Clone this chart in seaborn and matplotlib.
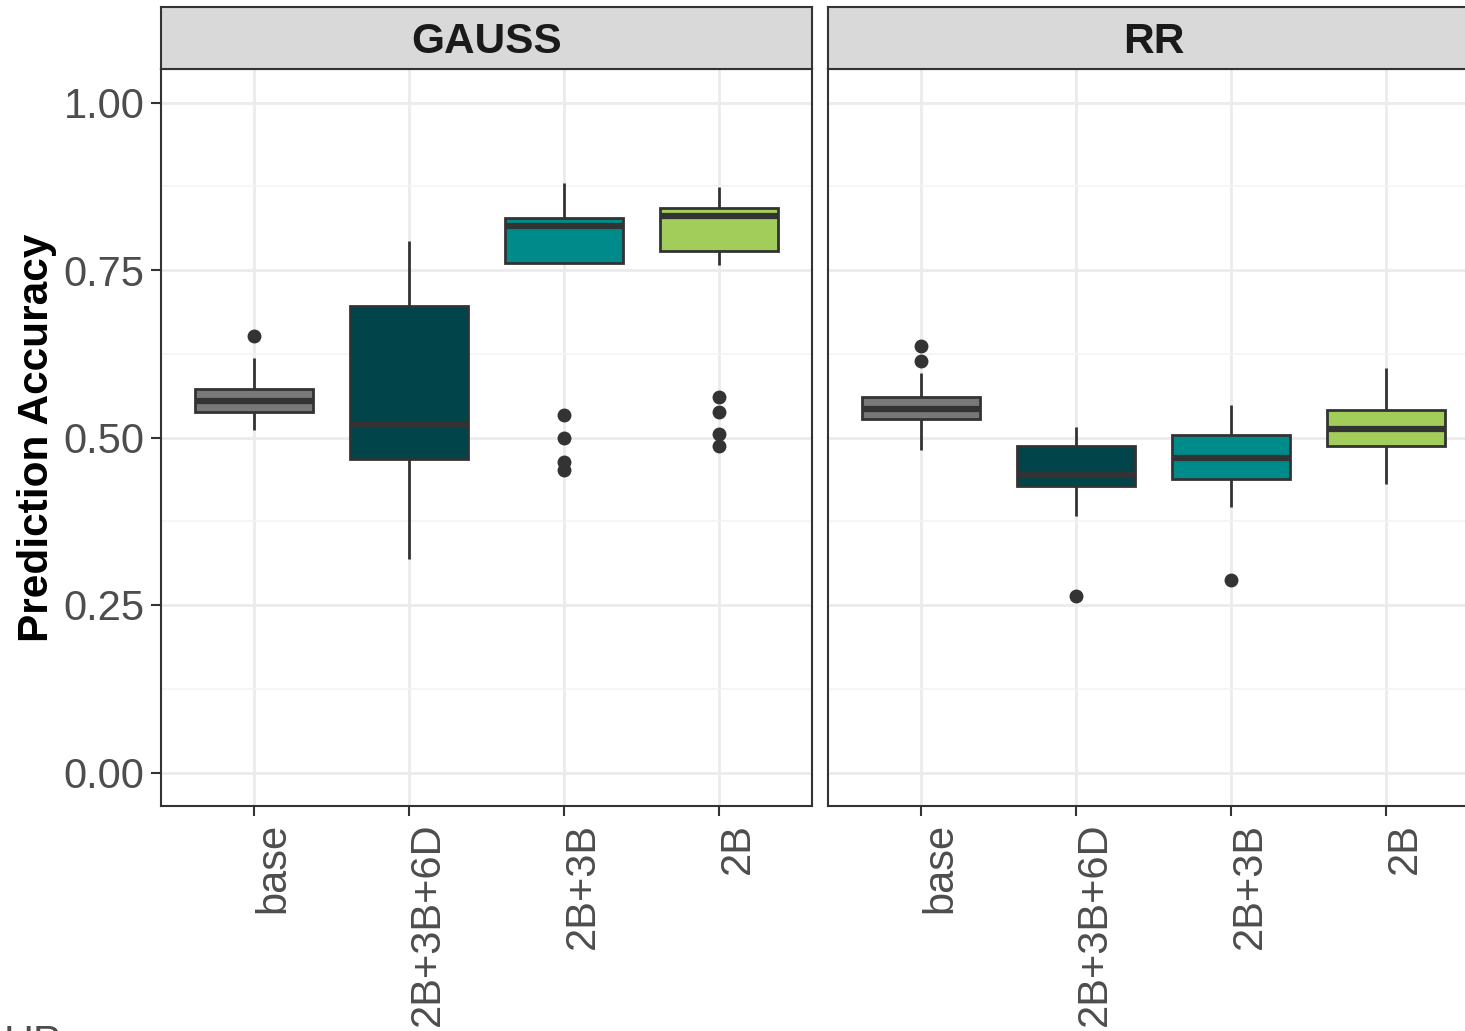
import pandas as pd
import matplotlib
matplotlib.use("Agg")
import matplotlib.pyplot as plt
import matplotlib.transforms as mtransforms
import seaborn as sns

sns.set_style("whitegrid")
plt.rcParams['font.family'] = ['Liberation Sans', 'DejaVu Sans']

combos = ['base', '2B+3B+6D', '2B+3B', '2B']
colors = ['#787878', '#01454A', '#008B8B', '#A2CD5A']
models = ['GAUSS', 'RR']

# prediction accuracies per marker set (whiskers, quartiles, outliers)
gauss_base = [0.511, 0.525, 0.538, 0.548, 0.555, 0.565, 0.573, 0.618, 0.651]
gauss_2b3b6d = [0.318, 0.400, 0.468, 0.490, 0.518, 0.600, 0.696, 0.750, 0.794]
gauss_2b3b = [0.451, 0.463, 0.499, 0.533, 0.761, 0.780, 0.795, 0.805, 0.815,
              0.819, 0.822, 0.825, 0.828, 0.845, 0.860, 0.870, 0.880]
gauss_2b = [0.488, 0.505, 0.538, 0.560, 0.758, 0.779, 0.790, 0.800, 0.810, 0.820,
            0.831, 0.834, 0.836, 0.838, 0.840, 0.842, 0.850, 0.855, 0.860, 0.865, 0.874]

rr_base = [0.481, 0.500, 0.515, 0.527, 0.535, 0.540, 0.543, 0.550, 0.555, 0.561,
           0.596, 0.614, 0.636]
rr_2b3b6d = [0.264, 0.383, 0.428, 0.436, 0.444, 0.460, 0.487, 0.500, 0.515]
rr_2b3b = [0.288, 0.396, 0.438, 0.455, 0.470, 0.490, 0.503, 0.520, 0.548]
rr_2b = [0.430, 0.460, 0.488, 0.500, 0.512, 0.530, 0.541, 0.570, 0.603]

groups = {
    'GAUSS': [gauss_base, gauss_2b3b6d, gauss_2b3b, gauss_2b],
    'RR': [rr_base, rr_2b3b6d, rr_2b3b, rr_2b],
}

rows = []
for m in models:
    for c, vals in zip(combos, groups[m]):
        for v in vals:
            rows.append((m, c, v))
df = pd.DataFrame(rows, columns=['model', 'combo', 'acc'])

fig = plt.figure(figsize=(14.65, 10.31), dpi=100)
W, H = 1465, 1031
panel_left = [161, 828]
panel_w = 651
top, bottom = 69, 806

edge = '#333333'
for i, m in enumerate(models):
    ax = fig.add_axes([panel_left[i] / W, (H - bottom) / H, panel_w / W, (bottom - top) / H])
    sns.boxplot(data=df[df['model'] == m], x='combo', y='acc', hue='combo',
                order=combos, hue_order=combos, palette=colors, legend=False,
                dodge=False, width=0.76, saturation=1, linewidth=2, linecolor=edge,
                showcaps=False,
                medianprops=dict(linewidth=4.5, color=edge),
                flierprops=dict(marker='o', markersize=9, markerfacecolor=edge,
                                markeredgecolor=edge),
                ax=ax)
    ax.set_ylim(-0.05, 1.05)
    ax.set_xlim(-0.6, 3.6)
    ax.set_yticks([0, 0.25, 0.5, 0.75, 1.0])
    ax.set_yticks([0.125, 0.375, 0.625, 0.875], minor=True)
    ax.set_yticklabels(['0.00', '0.25', '0.50', '0.75', '1.00'])
    ax.set_xticks(range(4))
    ax.set_xticklabels(combos, rotation=90, ha='left', va='top')
    ax.set_axisbelow(True)
    ax.grid(which='major', color='#EBEBEB', linewidth=2)
    ax.grid(which='minor', axis='y', color='#F3F3F3', linewidth=1.2)
    ax.tick_params(which='major', length=7, width=1.5, color=edge,
                   labelsize=30, labelcolor='#4D4D4D', pad=5)
    ax.tick_params(axis='x', bottom=True)
    ax.tick_params(axis='y', left=True)
    ax.tick_params(which='minor', length=0)
    ax.set_xlabel('')
    ax.set_ylabel('')
    for s in ax.spines.values():
        s.set_color(edge)
        s.set_linewidth(1.5)
    shift = mtransforms.ScaledTranslation(-1 / 100, 0, fig.dpi_scale_trans)
    for lab in ax.get_xticklabels():
        lab.set_transform(lab.get_transform() + shift)
    if i == 1:
        ax.tick_params(axis='y', left=False, labelleft=False)

    # facet strip
    sax = fig.add_axes([panel_left[i] / W, (H - top) / H, panel_w / W, 62 / H])
    sax.set_facecolor('#D9D9D9')
    sax.set_xticks([])
    sax.set_yticks([])
    sax.grid(False)
    for s in sax.spines.values():
        s.set_color(edge)
        s.set_linewidth(1.5)
    sax.text(0.5, 0.44, m, transform=sax.transAxes, ha='center', va='center',
             fontsize=30.5, fontweight='bold', color='#1A1A1A')

fig.text(37 / W, 1 - 437.5 / H, 'Prediction Accuracy', rotation=90,
         ha='center', va='center', fontsize=30.5, fontweight='bold', color='black')
fig.text(4 / W, (H - 1055) / H, 'HP', ha='left', va='baseline',
         fontsize=30, color='#4D4D4D')

fig.savefig('out.png', dpi=100)
